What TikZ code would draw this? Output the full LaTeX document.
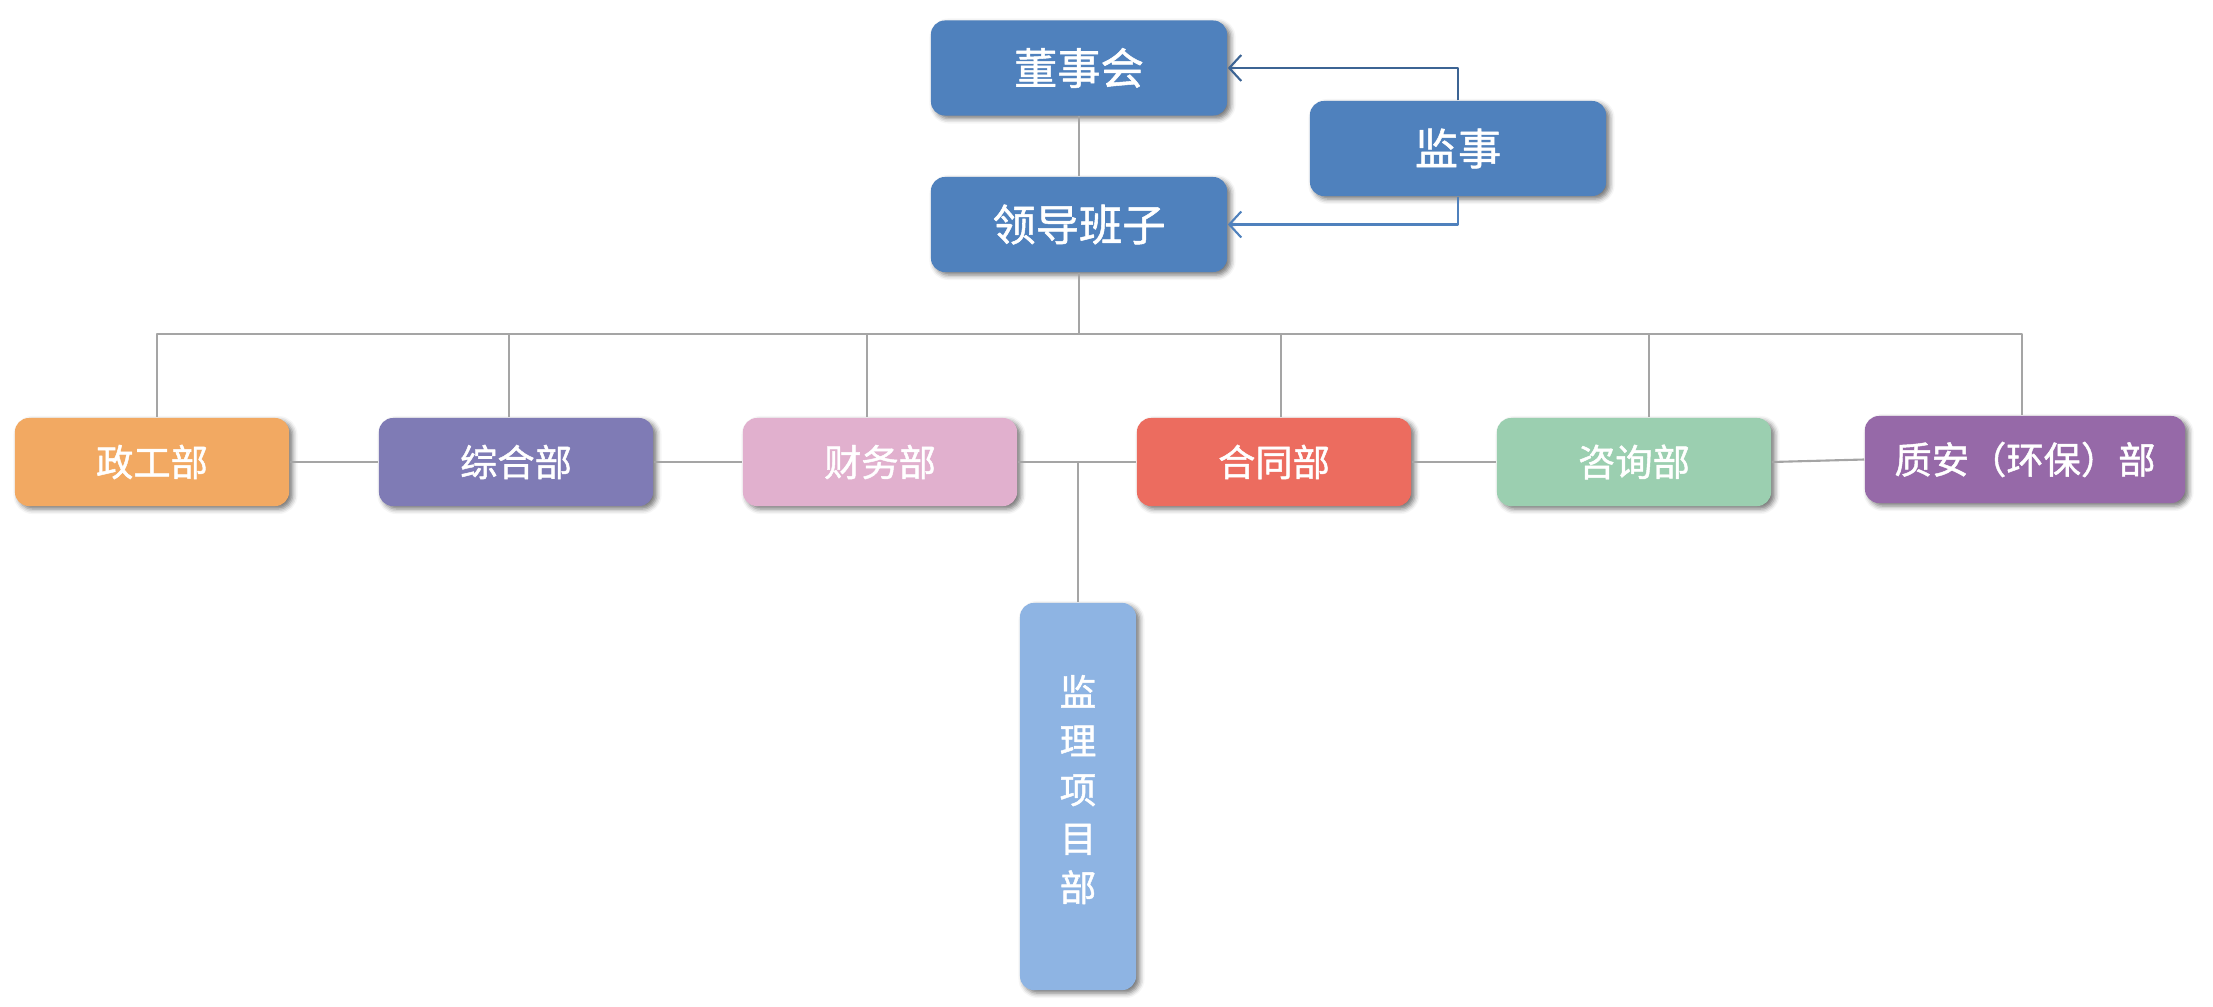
\documentclass[tikz,border=0pt]{standalone}
\usepackage{fontspec}
\setmainfont{Noto Sans CJK SC}[FakeBold=1.2]
\usepackage{tikz}
\usetikzlibrary{arrows.meta, shadows.blur}

\definecolor{boardblue}{HTML}{4F81BD}
\definecolor{feeddark}{HTML}{3C6494}
\definecolor{linegray}{HTML}{A5A5A5}
\definecolor{zgcol}{HTML}{F2A962}
\definecolor{zhcol}{HTML}{7F7BB5}
\definecolor{cwcol}{HTML}{E1B0CE}
\definecolor{htcol}{HTML}{EC6C5F}
\definecolor{zxcol}{HTML}{9BCFB0}
\definecolor{zacol}{HTML}{9669A8}
\definecolor{jlcol}{HTML}{8EB4E3}

\begin{document}
\begin{tikzpicture}[x=0.01cm,y=-0.01cm,line join=bevel,
  box/.style={rounded corners=0.14cm, inner sep=0pt, text=white,
    blur shadow={shadow xshift=0.035cm, shadow yshift=-0.03cm,
      shadow blur radius=0.05cm, shadow opacity=55}},
  topbox/.style={box, fill=boardblue, minimum width=2.96cm, minimum height=0.95cm,
    font=\fontsize{12.3}{14}\selectfont},
  dept/.style={box, minimum width=2.74cm, minimum height=0.88cm,
    font=\fontsize{10.6}{13}\selectfont},
  link/.style={draw=linegray, line width=0.6pt},
  feed/.style={line width=0.6pt, -{Straight Barb[length=0.12cm, width=0.26cm]}}]
  \useasboundingbox (0,0) rectangle (2213,1006);
%%
  % Node: dsh
  \node[topbox] (dsh) at (1079,68) {董事会};
  % Node: ldbz
  \node[topbox] (ldbz) at (1079,224.5) {领导班子};
  % Node: js
  \node[topbox] (js) at (1458,148.5) {监事};
  % Node: zgb
  \node[dept, fill=zgcol] (zgb) at (152,462) {政工部};
  % Node: zhb
  \node[dept, fill=zhcol] (zhb) at (516,462) {综合部};
  % Node: cwb
  \node[dept, fill=cwcol] (cwb) at (880,462) {财务部};
  % Node: htb
  \node[dept, fill=htcol] (htb) at (1274,462) {合同部};
  % Node: zxb
  \node[dept, fill=zxcol] (zxb) at (1634,462) {咨询部};
  % Node: zab
  \node[dept, fill=zacol, minimum width=3.2cm, minimum height=0.87cm] (zab) at (2025,459.5) {质安（环保）部};
  % Node: jlb
  \node[box, fill=jlcol, minimum width=1.16cm, minimum height=3.87cm, align=center,
    font=\fontsize{10.4}{13.9}\selectfont] (jlb) at (1078,796.5) {监\\理\\项\\目\\部\\[-0.32cm]};
%%
  % Edge: dsh -- ldbz
  \draw[link] (dsh.south) -- (ldbz.north);
  % Edge: js -> dsh, js -> ldbz
  \draw[feed, draw=feeddark] (js.north) |- (dsh.east);
  \draw[feed, draw=boardblue] (js.south) |- (ldbz.east);
  % Edge: ldbz -- departments
  \coordinate (bus) at (1079,334);
  \draw[link] (ldbz.south) -- (bus);
  \draw[link] (bus) -| ([xshift=0.05cm]zgb.north);
  \draw[link] (bus) -| ([xshift=-0.07cm]zhb.north);
  \draw[link] (bus) -| ([xshift=-0.13cm]cwb.north);
  \draw[link] (bus) -| ([xshift=0.07cm]htb.north);
  \draw[link] (bus) -| ([xshift=0.15cm]zxb.north);
  \draw[link] (bus) -| ([xshift=-0.03cm]zab.north);
  % Edge: department row
  \draw[link] (zgb.east) -- (zhb.west);
  \draw[link] (zhb.east) -- (cwb.west);
  \draw[link] (cwb.east) -- (htb.west);
  \draw[link] (htb.east) -- (zxb.west);
  \draw[link] (zxb.east) -- (zab.west);
  % Edge: row -- jlb
  \draw[link] (cwb.east -| jlb.north) -- (jlb.north);
%
\end{tikzpicture}
\end{document}
